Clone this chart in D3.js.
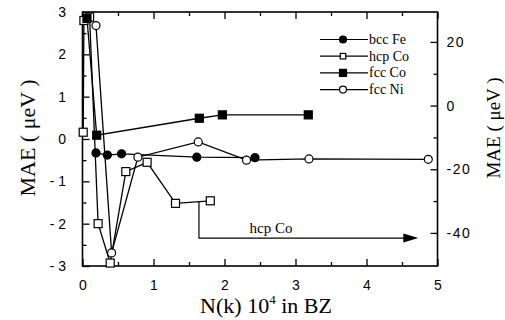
<!DOCTYPE html>
<html>
<head>
<meta charset="utf-8">
<script src="https://cdn.jsdelivr.net/npm/d3@7"></script>
<style>
    body { margin: 0; background: #fff; }
    #chart svg { display: block; }
    .tick-label { font-family: "Liberation Sans", Arial, sans-serif; font-size: 14px; fill: #000; }
    .title { font-family: "Liberation Serif", "Times New Roman", serif; fill: #000; }
</style>
</head>
<body>
<div id="chart"></div>
<script>
    // values (x in 10^4 k-points, y in left-axis ueV)
    var bccFeX = [0.19, 0.35, 0.55, 1.61, 2.43];
    var bccFeY = [-0.33, -0.38, -0.35, -0.43, -0.44];

    var hcpCoX = [0.01, 0.02, 0.10, 0.22, 0.39, 0.61, 0.91, 1.31, 1.80];
    var hcpCoY = [0.16, 2.80, 2.88, -2.00, -2.93, -0.77, -0.55, -1.52, -1.46];

    var fccCoX = [0.063, 0.20, 1.645, 1.97, 3.18];
    var fccCoY = [2.85, 0.09, 0.49, 0.57, 0.57];

    var fccNiX = [0.19, 0.41, 0.78, 1.63, 2.31, 3.19, 4.87];
    var fccNiY = [2.68, -2.69, -0.43, -0.07, -0.50, -0.47, -0.48];

    var xMajor = [0, 1, 2, 3, 4, 5];
    var xMinor = [0.5, 1.5, 2.5, 3.5, 4.5];
    var yMajor = [-3, -2, -1, 0, 1, 2, 3];
    var yMinor = [-2.5, -1.5, -0.5, 0.5, 1.5, 2.5];
    var yRightMajor = [-40, -20, 0, 20];
    var yRightMinor = [-30, -10, 10];

    // annotation for hcp Co continuing to the right
    var arrowX = [1.64, 1.64, 4.73];
    var arrowY = [-1.48, -2.34, -2.34];

    var series = [
        {name: "bcc Fe", xs: bccFeX, ys: bccFeY, shape: "circle", fill: "#000"},
        {name: "hcp Co", xs: hcpCoX, ys: hcpCoY, shape: "square", fill: "#fff"},
        {name: "fcc Co", xs: fccCoX, ys: fccCoY, shape: "square", fill: "#000"},
        {name: "fcc Ni", xs: fccNiX, ys: fccNiY, shape: "circle", fill: "#fff"}
    ];

    var width = 505, height = 320;
    var margin = {top: 12, right: 67.5, bottom: 54, left: 82.5};

    var x = d3.scaleLinear().domain([0, 5]).range([margin.left, width - margin.right]);
    var y = d3.scaleLinear().domain([-3, 3]).range([height - margin.bottom, margin.top]);
    var yRight = d3.scaleLinear().domain([-50.4, 29.4]).range([height - margin.bottom, margin.top]);

    var svg = d3.select("#chart").append("svg")
            .attr("width", width)
            .attr("height", height);

    var x0 = margin.left, x1 = width - margin.right;
    var y0 = height - margin.bottom, y1 = margin.top;

    function leftFmt(d) { return d < 0 ? "- " + Math.abs(d) : "" + d; }

    // ticks: all pointing into the plot
    function addAxis(axis, transform, labels) {
        var g = svg.append("g").attr("transform", transform).call(axis);
        g.select(".domain").remove();
        g.selectAll("line").attr("stroke", "#000").attr("stroke-width", 1.3);
        if (labels) {
            g.selectAll("text").attr("class", "tick-label").attr("fill", null);
        } else {
            g.selectAll("text").remove();
        }
        g.attr("font-family", null).attr("font-size", null);
        return g;
    }

    addAxis(d3.axisBottom(x).tickValues(xMajor).tickSize(-7).tickPadding(14).tickFormat(d3.format("d")),
            "translate(0," + y0 + ")", true);
    addAxis(d3.axisBottom(x).tickValues(xMinor).tickSize(-4), "translate(0," + y0 + ")", false);
    addAxis(d3.axisTop(x).tickValues(xMajor).tickSize(-7), "translate(0," + y1 + ")", false);
    addAxis(d3.axisTop(x).tickValues(xMinor).tickSize(-4), "translate(0," + y1 + ")", false);

    addAxis(d3.axisLeft(y).tickValues(yMajor).tickSize(-7).tickPadding(16.5).tickFormat(leftFmt),
            "translate(" + x0 + ",0)", true);
    addAxis(d3.axisLeft(y).tickValues(yMinor).tickSize(-4), "translate(" + x0 + ",0)", false);

    var gr = addAxis(d3.axisRight(yRight).tickValues(yRightMajor).tickSize(-7).tickPadding(9)
            .tickFormat(function(d) { return d; }), "translate(" + x1 + ",0)", true);
    gr.selectAll("text").attr("letter-spacing", "1.5px");
    addAxis(d3.axisRight(yRight).tickValues(yRightMinor).tickSize(-4), "translate(" + x1 + ",0)", false);

    // frame
    svg.append("rect")
            .attr("x", x0).attr("y", y1)
            .attr("width", x1 - x0).attr("height", y0 - y1)
            .attr("fill", "none").attr("stroke", "#000").attr("stroke-width", 1.6);

    var line = d3.line()
            .x(function(d) { return x(d[0]); })
            .y(function(d) { return y(d[1]); });

    function pts(s) { return s.xs.map(function(v, i) { return [v, s.ys[i]]; }); }

    series.forEach(function(s) {
        svg.append("path")
                .datum(pts(s))
                .attr("d", line)
                .attr("fill", "none")
                .attr("stroke", "#000")
                .attr("stroke-width", 1.3);
    });

    function drawMarker(g, s, cx, cy, size) {
        if (s.shape === "circle") {
            g.append("circle").attr("cx", cx).attr("cy", cy).attr("r", size / 2)
                    .attr("fill", s.fill).attr("stroke", "#000").attr("stroke-width", 1.2);
        } else {
            g.append("rect").attr("x", cx - size / 2).attr("y", cy - size / 2)
                    .attr("width", size).attr("height", size)
                    .attr("fill", s.fill).attr("stroke", "#000").attr("stroke-width", 1.2);
        }
    }

    series.forEach(function(s) {
        var g = svg.append("g");
        pts(s).forEach(function(p) { drawMarker(g, s, x(p[0]), y(p[1]), 8); });
    });

    // hcp Co arrow annotation
    var arrowPts = arrowX.map(function(v, i) { return [v, arrowY[i]]; });
    svg.append("path")
            .datum(arrowPts.slice(0, 2).concat([[arrowX[2] - 0.18, arrowY[2]]]))
            .attr("d", line)
            .attr("fill", "none").attr("stroke", "#000").attr("stroke-width", 1.2);
    var tipX = x(arrowX[2]), tipY = y(arrowY[2]);
    svg.append("path")
            .attr("d", "M" + tipX + "," + tipY + "L" + (tipX - 15) + "," + (tipY - 4.5) + "L" + (tipX - 15) + "," + (tipY + 4.5) + "Z")
            .attr("fill", "#000");
    svg.append("text")
            .attr("class", "title")
            .attr("x", x(2.655)).attr("y", y(-2.22))
            .attr("text-anchor", "middle")
            .style("font-size", "15px")
            .text("hcp Co");

    // legend
    var legend = svg.selectAll(".legend")
            .data(series)
            .enter().append("g")
            .attr("class", "legend")
            .attr("transform", function(d, i) { return "translate(320," + (39.5 + i * 16.7) + ")"; });

    legend.append("line")
            .attr("x1", 0).attr("x2", 48)
            .attr("stroke", "#000").attr("stroke-width", 1.2);
    legend.each(function(d) {
        drawMarker(d3.select(this), d, 23, 0, d.fill === "#fff" && d.shape === "square" ? 5.5 : 7);
    });
    legend.append("text")
            .attr("class", "title")
            .attr("x", 49).attr("y", 4.5)
            .style("font-size", "14px")
            .text(function(d) { return d.name; });

    // axis titles
    svg.append("text")
            .attr("class", "title")
            .attr("transform", "translate(35,138) rotate(-90)")
            .attr("text-anchor", "middle")
            .style("font-size", "22px")
            .text("MAE ( \u03bceV )");

    svg.append("text")
            .attr("class", "title")
            .attr("transform", "translate(500,128) rotate(-90)")
            .attr("text-anchor", "middle")
            .style("font-size", "19px")
            .text("MAE ( \u03bceV )");

    var xt = svg.append("text")
            .attr("class", "title")
            .attr("x", 266).attr("y", 313)
            .attr("text-anchor", "middle")
            .style("font-size", "22px");
    xt.append("tspan").text("N(k) 10");
    xt.append("tspan").attr("dy", -9).style("font-size", "13px").text("4");
    xt.append("tspan").attr("dy", 9).text(" in BZ");
</script>
</body>
</html>
